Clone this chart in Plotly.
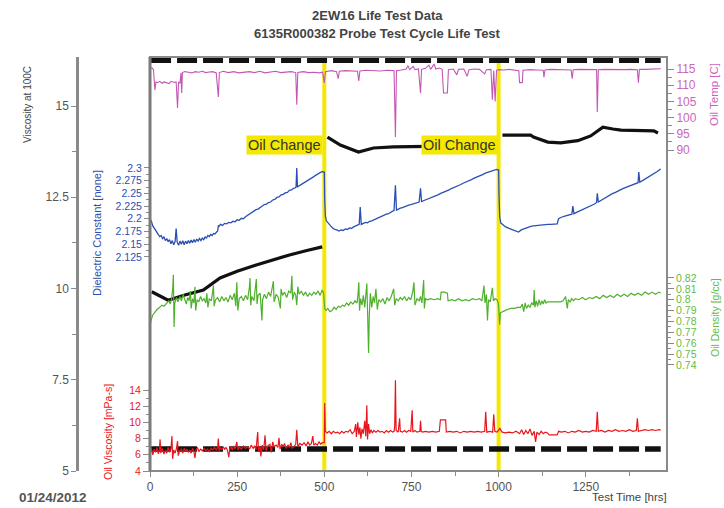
import plotly.graph_objects as go

# ---------------- data ----------------
oil_change_hrs = [500, 1000]
limit_t = [3, 1465]
visc_limit_high = [16.25, 16.25]
visc_limit_low = [5.6, 5.6]

# Viscosity at 100C (black, left outer axis)
visc_t = [5, 52, 100, 153, 201, 250, 300, 350, 400, 450, 494, None,
          509, 546, 598, 641, 698, 767, 850, 995, None,
          1011, 1092, 1100, 1141, 1178, 1227, 1264, 1299, 1328, 1351, 1445, 1457]
visc_v = [9.91, 9.68, 9.82, 9.96, 10.29, 10.47, 10.63, 10.78, 10.92, 11.04, 11.14, None,
          14.15, 13.93, 13.74, 13.85, 13.88, 13.88, 13.9, 13.95, None,
          14.2, 14.2, 14.15, 14.01, 13.99, 14.05, 14.18, 14.42, 14.37, 14.34, 14.32, 14.26]

# Dielectric constant (blue)
diel_t = [0, 4, 8, 12, 16, 20, 24, 28, 32, 36, 40, 44, 48, 52, 56, 60, 64, 68, 72, 75, 78, 82, 86, 90, 94, 98,
          102, 106, 110, 114, 118, 122, 126, 130, 134, 138, 142, 146, 150, 154, 158, 162, 166, 170, 174, 178,
          182, 186, 190, 194, 196, 198, 202, 208, 214, 220, 226, 232, 238, 244, 250, 256, 262, 268, 274, 280,
          286, 292, 298, 304, 310, 316, 322, 328, 334, 340, 346, 352, 358, 364, 370, 376, 382, 388, 394, 400,
          406, 412, 417, 419, 421, 423, 428, 434, 440, 446, 452, 458, 464, 470, 476, 482, 488, 494, 498,
          500, 501, 503, 506, 512, 518, 524, 530, 536, 542, 548, 554, 560, 566, 572, 578, 584, 590, 596, 600,
          603, 606, 612, 618, 624, 630, 636, 642, 648, 654, 660, 666, 672, 678, 684, 690, 696, 700, 704, 707,
          712, 718, 724, 730, 736, 742, 748, 754, 760, 766, 772, 776, 779, 786, 794, 802, 810, 818, 826, 834,
          842, 850, 858, 866, 874, 882, 890, 898, 906, 914, 922, 930, 938, 946, 954, 962, 970, 978, 986, 994, 998,
          1000, 1001, 1003, 1006, 1012, 1020, 1030, 1040, 1050, 1057, 1065, 1075, 1085, 1092, 1100, 1110, 1120,
          1130, 1141, 1150, 1160, 1168, 1172, 1180, 1190, 1200, 1210, 1213, 1216, 1225, 1235, 1245, 1255, 1265,
          1275, 1281, 1283, 1286, 1295, 1305, 1315, 1325, 1335, 1345, 1355, 1365, 1375, 1385, 1395, 1400, 1402,
          1405, 1415, 1425, 1435, 1445, 1455, 1465]
diel_v = [2.200, 2.195, 2.186, 2.181, 2.176, 2.171, 2.169, 2.165, 2.167, 2.161, 2.164, 2.157, 2.161, 2.155,
          2.159, 2.151, 2.157, 2.149, 2.155, 2.181, 2.154, 2.148, 2.156, 2.150, 2.157, 2.149,
          2.156, 2.151, 2.157, 2.152, 2.158, 2.153, 2.159, 2.154, 2.160, 2.156, 2.161, 2.157, 2.162, 2.159,
          2.164, 2.162, 2.167, 2.165, 2.169, 2.167, 2.171, 2.170, 2.174, 2.176, 2.186, 2.185, 2.189, 2.187,
          2.191, 2.190, 2.193, 2.192, 2.195, 2.194, 2.198, 2.197, 2.201, 2.200, 2.204, 2.207, 2.210, 2.213,
          2.215, 2.218, 2.219, 2.223, 2.225, 2.228, 2.229, 2.232, 2.233, 2.237, 2.238, 2.242, 2.243, 2.247,
          2.248, 2.251, 2.252, 2.256, 2.257, 2.260, 2.261, 2.263, 2.300, 2.263, 2.265, 2.268, 2.271, 2.273,
          2.276, 2.278, 2.281, 2.283, 2.286, 2.288, 2.290, 2.293, 2.292,
          2.292, 2.240, 2.205, 2.196, 2.190, 2.186, 2.182, 2.179, 2.178, 2.176, 2.178, 2.177, 2.180, 2.179,
          2.182, 2.181, 2.184, 2.186, 2.188, 2.189, 2.223, 2.189, 2.191, 2.193, 2.192, 2.195, 2.196, 2.198,
          2.199, 2.202, 2.203, 2.205, 2.207, 2.209, 2.210, 2.213, 2.215, 2.216, 2.266, 2.217, 2.219, 2.221,
          2.222, 2.224, 2.225, 2.227, 2.228, 2.229, 2.231, 2.232, 2.233, 2.260, 2.234, 2.236, 2.238, 2.240,
          2.242, 2.244, 2.247, 2.250, 2.252, 2.255, 2.257, 2.260, 2.262, 2.265, 2.267, 2.270, 2.272, 2.275,
          2.277, 2.280, 2.282, 2.285, 2.287, 2.290, 2.292, 2.294, 2.296, 2.297, 2.296,
          2.296, 2.250, 2.205, 2.192, 2.188, 2.184, 2.181, 2.178, 2.176, 2.174, 2.178, 2.181, 2.184, 2.185,
          2.186, 2.187, 2.188, 2.188, 2.189, 2.189, 2.190, 2.190, 2.200, 2.203, 2.205, 2.207, 2.209, 2.225,
          2.210, 2.213, 2.216, 2.219, 2.222, 2.226, 2.229, 2.232, 2.250, 2.233, 2.237, 2.241, 2.245, 2.249,
          2.252, 2.256, 2.259, 2.262, 2.265, 2.268, 2.270, 2.271, 2.292, 2.272, 2.276, 2.280, 2.284, 2.288,
          2.293, 2.298]

# Oil temperature (magenta)
temp_t = [0, 6, 10, 14, 17, 22, 28, 35, 40, 48, 55, 60, 68, 75, 79, 82, 86, 89, 91, 93, 100, 110, 120, 130,
          140, 150, 160, 170, 180, 190, 196, 199, 210, 225, 240, 255, 270, 285, 300, 315, 330, 345, 360, 375,
          390, 405, 418, 421, 424, 440, 455, 470, 485, 495, 500, 503, 520, 535, 540, 543, 560, 580, 595, 599,
          602, 620, 640, 660, 680, 700, 704, 707, 720, 735, 740, 745, 755, 760, 770, 776, 779, 790, 800, 805,
          815, 820, 830, 838, 842, 853, 856, 870, 880, 885, 900, 910, 915, 930, 945, 960, 965, 978, 982, 986,
          990, 994, 1000, 1015, 1030, 1045, 1058, 1060, 1068, 1070, 1090, 1110, 1128, 1130, 1133, 1150, 1170,
          1190, 1208, 1211, 1214, 1230, 1250, 1270, 1281, 1283, 1286, 1300, 1320, 1340, 1360, 1380, 1398, 1401,
          1404, 1420, 1440, 1465]
temp_v = [115.6, 115.3, 114.8, 108.5, 111.0, 110.8, 111.2, 110.6, 111.0, 110.8, 110.5, 111.2, 110.9, 111.0,
          103.0, 111.0, 110.7, 113.8, 107.6, 113.9, 114.2, 114.0, 113.8, 114.2,
          114.0, 114.3, 113.9, 114.1, 114.2, 113.8, 106.4, 113.9, 114.3, 113.9, 114.2, 113.8, 114.0, 114.2,
          113.9, 114.3, 113.8, 114.0, 114.3, 113.9, 114.0, 114.2, 113.9, 104.0, 113.9, 114.2, 113.9, 114.0,
          113.8, 114.0, 110.7, 114.2, 114.5, 114.2, 112.0, 114.3, 114.5, 114.4, 114.3, 111.3,
          114.4, 114.6, 114.5, 114.4, 114.6, 114.5, 94.0, 114.5, 114.7, 115.0, 116.0, 114.8, 115.8, 114.8,
          115.0, 107.6, 114.9, 115.2, 116.2, 114.9, 116.5, 115.0, 115.3, 114.9, 107.6, 107.6, 114.8, 115.0,
          113.2, 114.9, 115.0, 112.8, 114.8, 115.0, 114.9, 113.5, 114.8, 114.9, 105.5, 114.5,
          105.0, 114.6, 114.8, 114.7, 114.9, 114.6, 114.5, 110.8, 110.8, 114.6, 114.8, 114.7, 114.6, 112.5,
          114.7, 114.9, 114.8, 114.9, 114.7, 112.0, 114.8, 114.9, 114.8, 114.9, 114.8, 101.7, 114.8, 114.9,
          114.8, 114.9, 114.8, 114.9, 114.8, 110.8, 114.9, 114.9, 115.0, 115.1]

# Oil density (green)
dens_t = [0, 3, 8, 14, 20, 28, 34, 40, 48, 54, 58, 62, 65, 67, 69, 71, 76, 80, 86, 90, 95, 100, 104, 108, 112,
          116, 118, 122, 126, 129, 131, 135, 140, 145, 150, 155, 160, 163, 166, 170, 176, 182, 184, 188, 194,
          200, 206, 212, 218, 224, 230, 236, 242, 246, 249, 252, 256, 262, 268, 274, 280, 285, 287, 289, 292,
          298, 303, 305, 307, 310, 316, 321, 323, 328, 334, 340, 346, 352, 354, 356, 362, 368, 374, 376, 380,
          386, 392, 398, 404, 407, 409, 414, 418, 421, 424, 428, 434, 440, 446, 452, 458, 464, 470, 476, 482,
          488, 494, 498, 501, 505, 510, 516, 522, 528, 534, 540, 546, 552, 558, 564, 570, 576, 582, 588, 594,
          597, 599, 601, 604, 608, 612, 616, 620, 622, 624, 626, 627, 629, 632, 636, 640, 644, 648, 652, 656,
          662, 668, 674, 680, 686, 692, 699, 702, 706, 712, 718, 724, 730, 736, 742, 748, 754, 757, 760, 766,
          772, 776, 780, 785, 787, 790, 795, 805, 815, 825, 833, 835, 845, 853, 855, 865, 875, 885, 895, 905,
          915, 925, 935, 945, 952, 958, 961, 965, 968, 971, 976, 982, 985, 990, 995, 999, 1001, 1003, 1005,
          1010, 1018, 1025, 1035, 1045, 1055, 1063, 1068, 1072, 1076, 1080, 1085, 1090, 1095, 1100, 1102,
          1104, 1108, 1112, 1116, 1120, 1124, 1128, 1132, 1136, 1140, 1145, 1160, 1178, 1185, 1192, 1197,
          1200, 1205, 1210, 1215, 1220, 1230, 1240, 1250, 1260, 1270, 1280, 1290, 1300, 1310, 1320, 1330,
          1340, 1350, 1360, 1370, 1380, 1390, 1400, 1410, 1420, 1430, 1440, 1450, 1460, 1465]
dens_v = [0.775, 0.781, 0.786, 0.789, 0.791, 0.793, 0.795, 0.794, 0.797, 0.799, 0.796, 0.801, 0.810, 0.823,
          0.775, 0.797, 0.802, 0.798, 0.803, 0.799, 0.805, 0.800, 0.796, 0.802, 0.799,
          0.808, 0.792, 0.801, 0.797, 0.812, 0.790, 0.800, 0.798, 0.803, 0.799, 0.801, 0.797, 0.806, 0.793,
          0.801, 0.799, 0.813, 0.794, 0.800, 0.802,
          0.798, 0.803, 0.799, 0.802, 0.798, 0.804, 0.800, 0.806, 0.794, 0.816, 0.790, 0.801, 0.803, 0.799,
          0.804, 0.800, 0.811, 0.820, 0.795, 0.803,
          0.799, 0.814, 0.819, 0.796, 0.804, 0.806, 0.781, 0.800, 0.805, 0.801, 0.807, 0.803, 0.812, 0.817,
          0.798, 0.805, 0.802, 0.792, 0.810, 0.804,
          0.807, 0.802, 0.808, 0.806, 0.822, 0.800, 0.807, 0.804, 0.795, 0.812, 0.805, 0.808, 0.804, 0.807,
          0.803, 0.806, 0.804, 0.807, 0.805, 0.808,
          0.804, 0.809, 0.806, 0.792, 0.790, 0.792, 0.789, 0.790, 0.793, 0.791, 0.794, 0.793, 0.795, 0.794,
          0.797, 0.795, 0.798, 0.796, 0.799, 0.797,
          0.806, 0.816, 0.790, 0.801, 0.795, 0.804, 0.793, 0.808, 0.815, 0.790, 0.770, 0.751, 0.785, 0.806,
          0.793, 0.803, 0.797, 0.810, 0.791, 0.800,
          0.798, 0.801, 0.796, 0.802, 0.799, 0.803, 0.810, 0.795, 0.801, 0.799, 0.802, 0.800, 0.803, 0.799,
          0.802, 0.800, 0.808, 0.816, 0.795, 0.801,
          0.799, 0.803, 0.797, 0.818, 0.792, 0.801, 0.800, 0.801, 0.800, 0.801, 0.800, 0.807, 0.807, 0.806,
          0.799, 0.800, 0.799, 0.801, 0.799, 0.800,
          0.799, 0.801, 0.800, 0.801, 0.799, 0.813, 0.797, 0.805, 0.781, 0.800, 0.798, 0.811, 0.799, 0.801,
          0.800, 0.797, 0.789, 0.777, 0.788,
          0.789, 0.790, 0.791, 0.792, 0.792, 0.793, 0.793, 0.796, 0.789, 0.797, 0.792, 0.795, 0.793, 0.797,
          0.795, 0.809,
          0.793, 0.799, 0.794, 0.800, 0.795, 0.799, 0.796, 0.800, 0.797, 0.798, 0.798, 0.798, 0.798, 0.799,
          0.803, 0.792,
          0.800, 0.798, 0.801, 0.799, 0.801, 0.800, 0.802, 0.800, 0.802, 0.801, 0.803, 0.801, 0.804, 0.802,
          0.804, 0.802,
          0.805, 0.803, 0.805, 0.803, 0.806, 0.804, 0.806, 0.804, 0.807, 0.805, 0.807, 0.805, 0.807, 0.806]

# Oil viscosity (red)
oilv_t = [0, 4, 8, 12, 16, 20, 24, 27, 29, 31, 35, 40, 44, 48, 52, 56, 60, 63, 65, 68, 72, 76, 79, 81, 85, 90,
          94, 98, 102, 106, 110, 114, 118, 122, 126, 129, 132, 136, 140, 145, 150, 155, 160, 165, 170, 175, 180,
          185, 190, 194, 196, 198, 202, 206, 210, 214, 218, 222, 226, 229, 232, 236, 240, 244, 249, 252, 256,
          262, 268, 274, 280, 286, 290, 296, 300, 304, 309, 311, 316, 318, 322, 326, 330, 333, 338, 344, 348,
          352, 356, 362, 367, 370, 373, 378, 382, 386, 390, 396, 400, 404, 408, 413, 418, 421, 424, 430, 436,
          442, 448, 453, 458, 463, 467, 470, 475, 480, 485, 490, 494, 498,
          500, 501, 503, 508, 514, 520, 526, 532, 538, 544, 550, 556, 562, 568, 574, 580, 586, 590, 592, 596,
          599, 602, 605, 608, 612, 616, 619, 622, 624, 627, 630, 634, 638, 642, 648, 654, 660, 666, 672, 678,
          684, 690, 696, 700, 702, 704, 706, 712, 716, 718, 724, 730, 736, 742, 748, 752, 754, 760, 766, 774,
          776, 778, 782, 790, 800, 810, 820, 830, 833, 848, 850, 860, 870, 880, 890, 900, 910, 920, 930, 940,
          950, 960, 963, 966, 975, 983, 986, 989, 995, 999,
          1000, 1003, 1010, 1020, 1030, 1040, 1050, 1060, 1066, 1072, 1078, 1084, 1090, 1096, 1102, 1106, 1110,
          1116, 1122, 1128, 1134, 1140, 1145, 1160, 1168, 1172, 1180, 1190, 1200, 1210, 1220, 1230, 1240, 1250,
          1260, 1270, 1280, 1283, 1286, 1295, 1305, 1315, 1325, 1335, 1345, 1355, 1365, 1375, 1385, 1395, 1398,
          1401, 1410, 1420, 1430, 1440, 1450, 1460, 1465]
oilv_v = [6.2, 6.8, 6.0, 6.7, 6.3, 6.9, 6.1, 6.7, 7.9, 6.2, 6.8, 6.1, 6.6, 6.2, 6.9, 6.3, 6.7, 8.3, 5.5, 6.6,
          6.2, 6.8, 7.7, 5.9, 6.5, 6.7,
          6.2, 6.8, 6.4, 6.7, 6.3, 6.6, 6.2, 6.8, 6.4, 5.6, 6.6, 6.9, 6.4, 6.7, 6.5, 6.8, 6.5, 6.7, 6.4, 6.8, 6.6,
          6.9, 6.6, 6.9, 8.0, 6.5, 6.9, 6.6, 7.0, 6.7, 6.9, 6.6, 5.7, 6.8, 7.0, 6.6, 7.1, 6.7, 7.6, 6.6, 7.0,
          6.7, 7.1, 6.8, 7.0, 6.7, 7.2, 6.8, 7.1, 6.6, 8.8, 6.5, 7.0, 5.8, 7.2, 6.6, 8.4, 6.5, 7.1, 7.3, 6.3,
          7.6, 7.0, 7.2, 6.9, 8.1, 6.7, 7.3, 7.0, 7.4, 6.8, 7.2, 6.9, 7.5, 6.8, 7.1, 7.3, 9.1, 7.0, 7.4, 7.2,
          7.5, 7.1, 7.6, 7.2, 7.4, 8.3, 7.2, 7.4, 7.2, 7.6, 7.3, 7.5, 7.5,
          7.5, 12.4, 8.9, 8.7, 8.9, 8.6, 8.9, 8.7, 8.8, 8.6, 8.9, 8.7, 8.9, 8.8, 9.1, 8.6, 8.9, 9.8, 8.2, 10.0,
          8.5, 9.4, 8.0, 9.2, 8.6, 10.2, 8.3, 12.1, 7.9, 9.8, 8.6, 9.1, 8.7, 9.0, 8.8, 9.0, 8.8, 8.9, 8.7, 9.0,
          8.8, 9.0, 8.8, 8.9, 9.5, 15.2, 9.0, 8.8, 10.5, 8.9, 8.8, 9.0, 8.8, 9.0, 8.9, 11.5, 8.8, 9.0, 8.8, 8.9,
          10.2, 8.9, 8.8, 8.9, 8.8, 8.9, 8.8, 8.9, 10.3, 10.3, 8.8, 8.9, 8.8, 8.9, 8.7, 8.9, 8.8, 8.9, 8.8, 8.9,
          8.8, 8.9, 11.3, 8.8, 8.9, 8.8, 11.0, 8.9, 8.8, 9.0,
          9.0, 9.3, 8.8, 8.7, 8.8, 8.7, 8.9, 8.6, 9.1, 8.5, 9.0, 8.6, 9.2, 8.4, 8.9, 7.6, 8.8,
          8.5, 8.9, 8.6, 8.8, 8.7, 8.45, 8.45, 8.45, 8.9, 8.8, 8.9, 8.7, 8.9, 8.8, 9.0, 8.8, 8.9,
          8.8, 9.0, 8.9, 11.3, 8.9, 9.0, 8.8, 9.0, 8.9, 9.1, 8.9, 9.0, 8.9, 9.1, 8.9, 9.0, 10.5,
          8.9, 9.0, 9.1, 9.0, 9.1, 9.0, 9.1, 9.05]

# axis ticks
x_ticks = [0, 250, 500, 750, 1000, 1250]
visc_ticks = [5, 7.5, 10, 12.5, 15]
diel_ticks = [2.125, 2.15, 2.175, 2.2, 2.225, 2.25, 2.275, 2.3]
oilv_ticks = [4, 6, 8, 10, 12, 14]
temp_ticks = [90, 95, 100, 105, 110, 115]
dens_ticks = [0.74, 0.75, 0.76, 0.77, 0.78, 0.79, 0.8, 0.81, 0.82]

# ---------------- styling ----------------
NARROW = "Liberation Sans Narrow, Arial Narrow, Liberation Sans, Arial, sans-serif"
SANS = "Liberation Sans, Arial, sans-serif"
GRAY = "#8a8a8a"
BLACK = "#111111"
BLUE = "#2b4fb3"
MAG = "#c457b4"
GREEN = "#4fb02c"
RED = "#e8161c"
YEL = "#f4e800"

fig = go.Figure()

fig.add_trace(go.Scatter(x=temp_t, y=temp_v, yaxis="y4", mode="lines",
                         line=dict(color=MAG, width=1.1), showlegend=False))
fig.add_trace(go.Scatter(x=diel_t, y=diel_v, yaxis="y2", mode="lines",
                         line=dict(color=BLUE, width=1.3), showlegend=False))
fig.add_trace(go.Scatter(x=dens_t, y=dens_v, yaxis="y5", mode="lines",
                         line=dict(color=GREEN, width=1.2), showlegend=False))
fig.add_trace(go.Scatter(x=oilv_t, y=oilv_v, yaxis="y3", mode="lines",
                         line=dict(color=RED, width=1.2), showlegend=False))
fig.add_trace(go.Scatter(x=visc_t, y=visc_v, yaxis="y", mode="lines", connectgaps=False,
                         line=dict(color=BLACK, width=3.2), showlegend=False))
for lim in (visc_limit_high, visc_limit_low):
    fig.add_trace(go.Scatter(x=limit_t, y=lim, yaxis="y", mode="lines", cliponaxis=False,
                             line=dict(color=BLACK, width=5.5, dash="20px,6px"), showlegend=False))

for t in oil_change_hrs:
    fig.add_shape(type="line", xref="x", yref="y domain", x0=t, x1=t, y0=0, y1=1,
                  line=dict(color=YEL, width=4), layer="below")
    fig.add_annotation(x=t, y=0.7874, xref="x", yref="paper", xanchor="right", yanchor="middle",
                       text="Oil Change", showarrow=False, bgcolor=YEL, borderpad=1, xshift=-1,
                       font=dict(family=SANS, size=14.5, color="#333333"))

# plot frame
fig.add_shape(type="rect", xref="x domain", yref="y domain", x0=0, x1=1, y0=0, y1=1,
              line=dict(color=GRAY, width=2), layer="above")
fig.add_shape(type="line", xref="x domain", yref="y domain", x0=0, x1=0, y0=0, y1=1,
              line=dict(color="#7a7a7a", width=3), layer="above")

L, R, T, B = 10, 10, 57, 37
W, H = 724, 508
PW, PH = W - L - R, H - T - B


def px_x(px):
    return (px - L) / PW


def px_y(py):
    return (H - B - py) / PH


common = dict(showgrid=False, zeroline=False, ticks="outside", tickcolor=GRAY, tickwidth=1, automargin=False)

fig.update_layout(
    width=W, height=H,
    margin=dict(l=L, r=R, t=T, b=B, autoexpand=False),
    paper_bgcolor="white", plot_bgcolor="white",
    showlegend=False,
    xaxis=dict(domain=[px_x(150), px_x(667)], range=[0, 1483], tickvals=x_ticks,
               ticklen=5, showline=False, anchor="y",
               minor=dict(tickvals=[125, 375, 625, 875, 1125, 1375], ticklen=4, tickcolor=GRAY),
               tickfont=dict(family=NARROW, size=12, color="#555555"), **common),
    yaxis=dict(anchor="free", position=px_x(77), side="left", range=[5, 5 + PH / 36.5],
               tickvals=visc_ticks, ticktext=["5", "7.5", "10", "12.5", "15"], ticklen=5,
               showline=True, linecolor=GRAY, linewidth=2.5,
               minor=dict(tickvals=[6.25, 8.75, 11.25, 13.75], ticklen=4, tickcolor=GRAY),
               tickfont=dict(family=NARROW, size=12, color="#555555"), **common),
    yaxis2=dict(overlaying="y", anchor="x", side="left", range=[1.7035, 1.7035 + PH / 508],
                tickvals=diel_ticks, ticktext=["2.125", "2.15", "2.175", "2.2", "2.225", "2.25", "2.275", "2.3"],
                ticklen=5, showline=False,
                minor=dict(tickvals=[2.1375, 2.1625, 2.1875, 2.2125, 2.2375, 2.2625, 2.2875], ticklen=3,
                           tickcolor=GRAY),
                tickfont=dict(family=NARROW, size=10.5, color=BLUE), **common),
    yaxis3=dict(overlaying="y", anchor="x", side="left", range=[4, 4 + PH / 8.1],
                tickvals=oilv_ticks, ticklen=6, showline=False,
                minor=dict(tickvals=[5, 7, 9, 11, 13], ticklen=3, tickcolor=GRAY),
                tickfont=dict(family=NARROW, size=10.5, color=RED), **common),
    yaxis4=dict(overlaying="y", anchor="x", side="right", range=[-9.07, -9.07 + PH / 3.24],
                tickvals=temp_ticks, ticklen=6, showline=False,
                minor=dict(tickvals=[92.5, 97.5, 102.5, 107.5, 112.5], ticklen=4, tickcolor=GRAY),
                tickfont=dict(family=NARROW, size=12, color="#cc66bb"), **common),
    yaxis5=dict(overlaying="y", anchor="x", side="right", range=[0.6425, 0.6425 + PH / 1087.5],
                tickvals=dens_ticks, ticktext=["0.74", "0.75", "0.76", "0.77", "0.78", "0.79", "0.8", "0.81", "0.82"],
                ticklen=6, showline=False,
                minor=dict(tickvals=[0.745, 0.755, 0.765, 0.775, 0.785, 0.795, 0.805, 0.815], ticklen=3,
                           tickcolor=GRAY),
                tickfont=dict(family=NARROW, size=10.5, color="#66bb44"), **common),
)

annots = [
    dict(text="<b>2EW16 Life Test Data</b>", x=px_x(377), y=px_y(15), size=13, color="#444444", fam=SANS, ang=0,
         xa="center"),
    dict(text="<b>6135R000382 Probe Test Cycle Life Test</b>", x=px_x(377), y=px_y(34), size=13, color="#444444",
         fam=SANS, ang=0, xa="center"),
    dict(text="Viscosity at 100C", x=px_x(28), y=px_y(105), size=10, color="#444444", fam=NARROW, ang=-90,
         xa="center"),
    dict(text="Dielectric Constant [none]", x=px_x(97), y=px_y(233), size=11, color=BLUE, fam=NARROW, ang=-90,
         xa="center"),
    dict(text="Oil Viscosity [mPa-s]", x=px_x(108), y=px_y(432), size=10.5, color=RED, fam=NARROW, ang=-90,
         xa="center"),
    dict(text="Oil Temp [C]", x=px_x(714), y=px_y(95), size=11.5, color="#cc66bb", fam=NARROW, ang=-90,
         xa="center"),
    dict(text="Oil Density [g/cc]", x=px_x(715), y=px_y(318), size=10.5, color="#66bb44", fam=NARROW, ang=-90,
         xa="center"),
    dict(text="Test Time [hrs]", x=px_x(669), y=px_y(497), size=11.5, color="#444444", fam=NARROW, ang=0,
         xa="right"),
    dict(text="<b>01/24/2012</b>", x=px_x(17), y=px_y(497), size=13.5, color="#555555", fam=SANS, ang=0,
         xa="left"),
]
for a in annots:
    fig.add_annotation(text=a["text"], x=a["x"], y=a["y"], xref="paper", yref="paper", showarrow=False,
                       xanchor=a["xa"], yanchor="middle", textangle=a["ang"],
                       font=dict(family=a["fam"], size=a["size"], color=a["color"]))

fig.write_html("out.html", config={"displayModeBar": False},
               post_script="document.body.style.margin='0';document.body.style.overflow='hidden';")
